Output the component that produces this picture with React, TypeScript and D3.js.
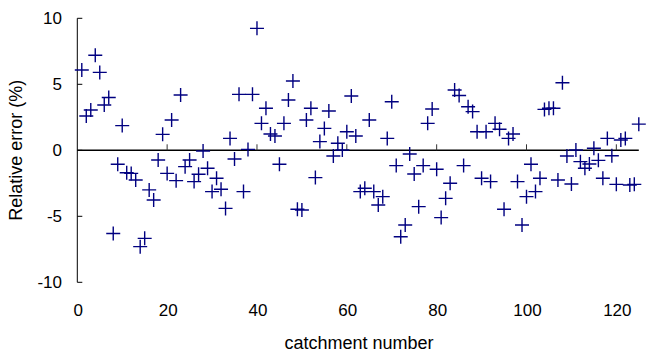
import React from "react";
import * as d3 from "d3";

const catchments: number[] = d3.range(1, 126);
const relativeError: number[] = [
  6.08, 2.6, 3.05, 7.2, 5.9, 3.43, 4.0, -6.3, -1.06, 1.87,
  -1.7, -1.75, -2.25, -7.3, -6.67, -3.0, -3.77, -0.74, 1.21, -1.75,
  2.3, -2.3, 4.19, -1.24, -0.73, -2.37, -1.82, -0.05, -1.36, -3.13,
  -2.12, -2.95, -4.4, 0.9, -0.66, 4.24, -3.13, 0.07, 4.24, 9.24,
  2.04, 3.18, 1.23, 1.08, -1.06, 2.04, 3.81, 5.25, -4.47, -4.52,
  2.3, 3.18, -2.07, 0.66, 1.66, 2.98, -0.43, 0.53, 0.02, 1.41,
  4.11, 1.08, -3.13, -2.88, 2.3, -3.13, -4.14, -3.51, 0.9, 3.68,
  -1.16, -6.55, -5.66, -0.28, -1.8, -4.27, -1.16, 2.04, 3.13, -1.44,
  -5.1, -3.64, -2.5, 4.57, 4.15, -1.16, 3.3, 2.93, 1.41, -2.12,
  1.41, -2.37, 2.04, 1.59, -4.47, 0.9, 1.23, -2.37, -5.66, -3.51,
  -1.06, -3.13, -2.12, 3.1, 3.18, 3.18, -2.25, 5.12, -0.43, -2.55,
  0.02, -0.86, -1.36, -1.04, 0.15, -0.76, -2.12, 0.9, -0.41, -2.58,
  0.78, 0.9, -2.63, -2.58, 1.98,
];
const xTicks: number[] = [0, 20, 40, 60, 80, 100, 120];
const yTicks: number[] = [-10, -5, 0, 5, 10];

export default function App() {
  const W = 646, H = 352;
  const x = d3.scaleLinear().domain([0, 125]).range([77.3, 638.8]);
  const y = d3.scaleLinear().domain([-10, 10]).range([282.3, 18.3]);
  const font = "'Liberation Sans', Arial, sans-serif";
  const data = catchments.map((c, i) => ({ c, v: relativeError[i] }));
  const s = 7;
  return (
    <svg width={W} height={H} style={{ position: "absolute", left: 0, top: 0, background: "#fff" }}>
      {/* y axis */}
      <line x1={x(0)} x2={x(0)} y1={y(10)} y2={y(-10)} stroke="#000" strokeWidth={1} />
      {yTicks.map((t) => (
        <g key={"yt" + t}>
          <line x1={x(0)} x2={x(0) + 5} y1={y(t)} y2={y(t)} stroke="#000" strokeWidth={1} />
          <text x={62} y={y(t)} dy="0.35em" textAnchor="end" fontFamily={font} fontSize={17} fill="#000">
            {t}
          </text>
        </g>
      ))}
      {/* zero line / x axis */}
      <line x1={x(0)} x2={x(125)} y1={y(0)} y2={y(0)} stroke="#000" strokeWidth={1.5} />
      {xTicks.map((t) => (
        <g key={"xt" + t}>
          {t > 0 && <line x1={x(t)} x2={x(t)} y1={y(0)} y2={y(0) - 6} stroke="#333" strokeWidth={1} />}
          <text x={x(t) + 1} y={316} textAnchor="middle" fontFamily={font} fontSize={17} fill="#000">
            {t}
          </text>
        </g>
      ))}
      {data.map((d) => {
        const cx = x(d.c), cy = y(d.v);
        return (
          <path
            key={"p" + d.c}
            d={`M${cx - s},${cy}H${cx + s}M${cx},${cy - s}V${cy + s}`}
            stroke="#000080"
            strokeWidth={1.4}
            fill="none"
          />
        );
      })}
      <text x={359} y={349} textAnchor="middle" fontFamily={font} fontSize={18} fill="#000">
        catchment number
      </text>
      <text
        transform={`translate(22,${y(0)}) rotate(-90)`}
        textAnchor="middle"
        fontFamily={font}
        fontSize={18}
        fill="#000"
      >
        Relative error (%)
      </text>
    </svg>
  );
}
